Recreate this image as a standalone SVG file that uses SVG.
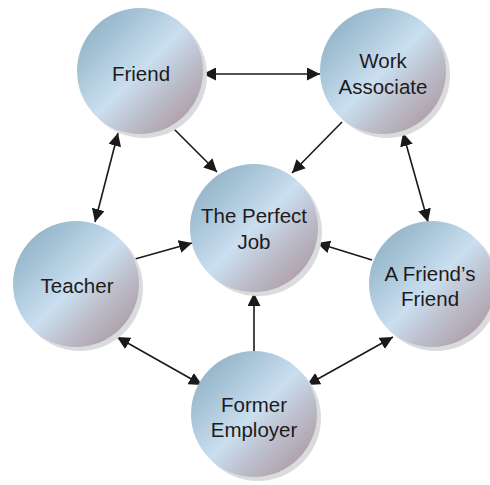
<svg xmlns="http://www.w3.org/2000/svg" width="490" height="485" viewBox="0 0 490 485">
<defs>
<linearGradient id="g" x1="0" y1="0" x2="1" y2="1">
<stop offset="0" stop-color="#86a8bc"/>
<stop offset="0.25" stop-color="#a4c2d5"/>
<stop offset="0.5" stop-color="#cadff0"/>
<stop offset="0.68" stop-color="#bcbecb"/>
<stop offset="1" stop-color="#a68d94"/>
</linearGradient>
<marker id="ah" markerUnits="userSpaceOnUse" markerWidth="14" markerHeight="13" refX="13" refY="6.5" orient="auto-start-reverse">
<path d="M0,0 L13,6.5 L0,13 Z" fill="#1a1a1a"/>
</marker>
<style>
.sh{fill:#d9dbdd}
.c{fill:url(#g)}
.t{font-family:"Liberation Sans",Arial,sans-serif;font-size:20.5px;fill:#1e1b1c;text-anchor:middle}
.l{stroke:#1a1a1a;stroke-width:1.6;fill:none}
</style>
</defs>
<rect width="490" height="485" fill="#ffffff"/>
<g id="connectors">
<line class="l" x1="203" y1="74" x2="320" y2="74" marker-start="url(#ah)" marker-end="url(#ah)"/>
<line class="l" x1="173" y1="128" x2="217" y2="172" marker-end="url(#ah)"/>
<line class="l" x1="342" y1="122" x2="292" y2="173" marker-end="url(#ah)"/>
<line class="l" x1="118" y1="133" x2="95" y2="222" marker-start="url(#ah)" marker-end="url(#ah)"/>
<line class="l" x1="403" y1="133" x2="428" y2="222" marker-start="url(#ah)" marker-end="url(#ah)"/>
<line class="l" x1="135" y1="259" x2="192" y2="243" marker-end="url(#ah)"/>
<line class="l" x1="372" y1="260" x2="317" y2="243" marker-end="url(#ah)"/>
<line class="l" x1="254" y1="352" x2="254" y2="293" marker-end="url(#ah)"/>
<line class="l" x1="117" y1="337" x2="202" y2="385" marker-start="url(#ah)" marker-end="url(#ah)"/>
<line class="l" x1="393" y1="337" x2="307" y2="385" marker-start="url(#ah)" marker-end="url(#ah)"/>
</g>
<g id="friend">
<circle class="sh" cx="144" cy="75" r="63"/>
<circle class="c" cx="140" cy="71" r="63"/>
<text class="t" x="141" y="81">Friend</text>
</g>
<g id="work-associate">
<circle class="sh" cx="387" cy="75" r="63"/>
<circle class="c" cx="383" cy="71" r="63"/>
<text class="t" x="383" y="68">Work</text>
<text class="t" x="383" y="94">Associate</text>
</g>
<g id="perfect-job">
<circle class="sh" cx="258" cy="232" r="64"/>
<circle class="c" cx="254" cy="228" r="64"/>
<text class="t" x="254" y="223">The Perfect</text>
<text class="t" x="254" y="249">Job</text>
</g>
<g id="teacher">
<circle class="sh" cx="80" cy="288" r="63"/>
<circle class="c" cx="76" cy="284" r="63"/>
<text class="t" x="77" y="293">Teacher</text>
</g>
<g id="friends-friend">
<circle class="sh" cx="436" cy="288" r="63"/>
<circle class="c" cx="432" cy="284" r="63"/>
<text class="t" x="430" y="281">A Friend’s</text>
<text class="t" x="430" y="306">Friend</text>
</g>
<g id="former-employer">
<circle class="sh" cx="258" cy="418" r="63"/>
<circle class="c" cx="254" cy="414" r="63"/>
<text class="t" x="254" y="412">Former</text>
<text class="t" x="254" y="437">Employer</text>
</g>
</svg>
